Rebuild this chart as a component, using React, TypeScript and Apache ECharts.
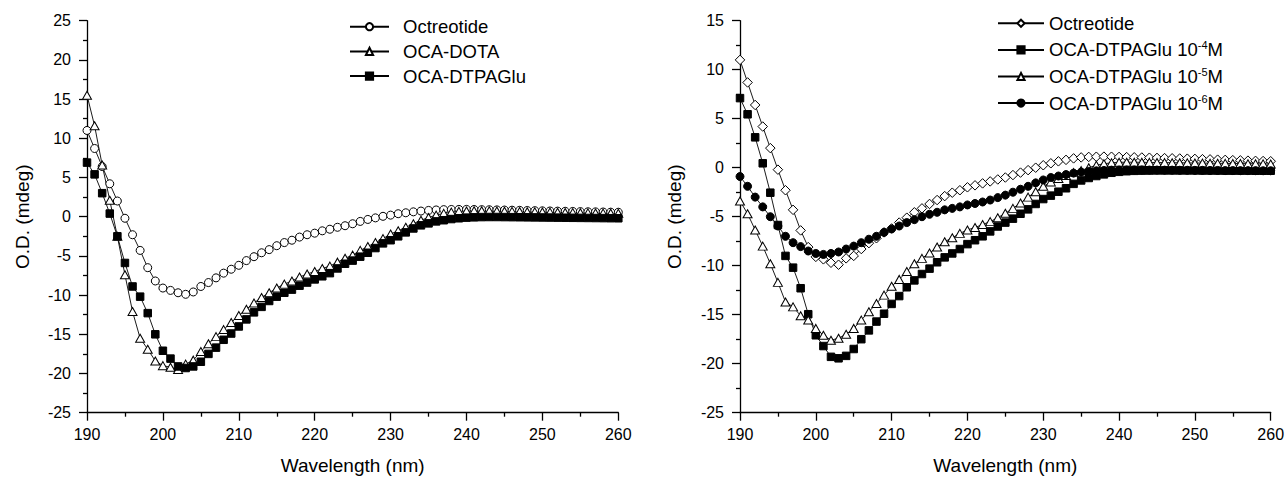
import React, { useEffect, useRef } from 'react';
import * as echarts from 'echarts';

const FONT = "'Liberation Sans', Arial, Helvetica, sans-serif";

// Wavelength (nm)
const wavelengths = [
  190, 191, 192, 193, 194, 195, 196, 197, 198, 199,
  200, 201, 202, 203, 204, 205, 206, 207, 208, 209,
  210, 211, 212, 213, 214, 215, 216, 217, 218, 219,
  220, 221, 222, 223, 224, 225, 226, 227, 228, 229,
  230, 231, 232, 233, 234, 235, 236, 237, 238, 239,
  240, 241, 242, 243, 244, 245, 246, 247, 248, 249,
  250, 251, 252, 253, 254, 255, 256, 257, 258, 259,
  260,
];

// Left panel
const leftOctreotide = [
  11.0, 8.7, 6.4, 4.2, 2.0, -0.2, -2.3, -4.3, -6.5, -8.2,
  -9.1, -9.4, -9.7, -9.9, -9.6, -8.9, -8.4, -7.8, -7.2, -6.7,
  -6.2, -5.6, -5.1, -4.6, -4.2, -3.7, -3.3, -3.0, -2.6, -2.3,
  -2.1, -1.8, -1.6, -1.35, -1.15, -0.9, -0.6, -0.35, -0.15, 0.05,
  0.2, 0.38, 0.5, 0.62, 0.72, 0.8, 0.86, 0.9, 0.92, 0.93,
  0.93, 0.92, 0.9, 0.89, 0.87, 0.85, 0.83, 0.81, 0.79, 0.77,
  0.75, 0.73, 0.71, 0.69, 0.67, 0.65, 0.63, 0.62, 0.6, 0.58,
  0.57,
];
const leftOcaDota = [
  15.5, 11.6, 6.6, 2.1, -2.5, -7.4, -12.1, -15.5, -16.9, -18.4,
  -19.0, -19.2, -19.5, -18.8, -18.3, -17.2, -16.2, -15.3, -14.4, -13.5,
  -12.6, -11.8, -11.0, -10.3, -9.7, -9.1, -8.6, -8.2, -7.7, -7.3,
  -7.0, -6.6, -6.3, -5.8, -5.3, -4.9, -4.3, -3.8, -3.3, -2.8,
  -2.2, -1.8, -1.35, -0.9, -0.45, -0.1, 0.2, 0.42, 0.58, 0.68,
  0.73, 0.75, 0.75, 0.74, 0.72, 0.7, 0.68, 0.66, 0.64, 0.62,
  0.6, 0.58, 0.56, 0.54, 0.52, 0.5, 0.49, 0.47, 0.46, 0.45,
  0.44,
];
const leftOcaDtpaGlu = [
  6.9, 5.4, 3.0, 0.4, -2.5, -5.9, -8.9, -10.2, -12.3, -15.0,
  -17.1, -18.1, -19.1, -19.3, -19.1, -18.5, -17.5, -16.7, -15.7, -14.9,
  -14.0, -13.1, -12.2, -11.5, -10.75, -10.2, -9.7, -9.3, -8.8, -8.4,
  -8.0, -7.6, -7.2, -6.6, -6.0, -5.6, -5.1, -4.6, -4.0, -3.4,
  -3.0, -2.5, -2.0, -1.5, -1.1, -0.85, -0.6, -0.45, -0.3, -0.2,
  -0.12, -0.08, -0.05, -0.04, -0.04, -0.05, -0.06, -0.07, -0.08, -0.09,
  -0.1, -0.11, -0.12, -0.13, -0.14, -0.15, -0.16, -0.17, -0.18, -0.19,
  -0.2,
];

// Right panel
const rightOctreotide = [
  11.0, 8.7, 6.4, 4.2, 2.0, -0.2, -2.3, -4.3, -6.4, -8.1,
  -9.1, -9.35, -9.7, -9.9, -9.25, -9.0, -8.3, -7.7, -7.2, -6.6,
  -6.2, -5.6, -5.1, -4.55, -4.15, -3.7, -3.3, -2.9, -2.55, -2.3,
  -2.0, -1.8, -1.6, -1.4, -1.2, -1.0, -0.75, -0.5, -0.25, 0.0,
  0.25, 0.45, 0.65, 0.8, 0.95, 1.05, 1.1, 1.12, 1.13, 1.12,
  1.1, 1.08, 1.06, 1.04, 1.02, 1.0, 0.98, 0.96, 0.94, 0.92,
  0.9, 0.87, 0.85, 0.82, 0.8, 0.77, 0.75, 0.72, 0.7, 0.68,
  0.66,
];
const rightDtpa4 = [
  7.1, 5.45, 3.1, 0.45, -2.55, -5.85, -9.0, -10.2, -12.3, -14.95,
  -17.1, -18.2, -19.3, -19.45, -19.2, -18.5, -17.5, -16.6, -15.7, -14.9,
  -13.9, -13.1, -12.2, -11.5, -10.85, -10.3, -9.65, -9.15, -8.75, -8.3,
  -7.8, -7.4, -7.0, -6.5, -6.0, -5.6, -5.2, -4.7, -4.25, -3.7,
  -3.2, -2.85, -2.45, -2.1, -1.65, -1.3, -1.05, -0.85, -0.68, -0.52,
  -0.42, -0.36, -0.32, -0.3, -0.29, -0.28, -0.28, -0.28, -0.28, -0.28,
  -0.28, -0.29, -0.29, -0.29, -0.3, -0.3, -0.3, -0.3, -0.31, -0.31,
  -0.31,
];
const rightDtpa5 = [
  -3.4, -4.7, -6.35, -8.0, -9.8, -11.7, -13.7, -14.2, -15.1, -15.55,
  -16.4, -17.1, -17.6, -17.4, -17.0, -16.4, -15.55, -14.7, -13.85, -13.0,
  -12.1, -11.4, -10.6, -9.8, -9.25, -8.7, -8.1, -7.55, -7.15, -6.7,
  -6.35, -6.1, -5.8, -5.5, -5.1, -4.65, -4.15, -3.6, -3.0, -2.45,
  -1.9, -1.45, -1.1, -0.8, -0.5, -0.3, 0.0, 0.25, 0.4, 0.5,
  0.55, 0.56, 0.56, 0.55, 0.54, 0.53, 0.52, 0.51, 0.5, 0.49,
  0.48, 0.47, 0.46, 0.45, 0.44, 0.43, 0.42, 0.41, 0.4, 0.39,
  0.38,
];
const rightDtpa6 = [
  -0.9, -1.9, -3.0, -4.0, -5.0, -5.95, -7.0, -7.65, -8.05, -8.5,
  -8.75, -8.85, -8.75, -8.6, -8.3, -8.0, -7.65, -7.3, -7.0, -6.6,
  -6.25, -5.95, -5.6, -5.3, -5.0, -4.75, -4.55, -4.3, -4.15, -4.0,
  -3.8, -3.65, -3.5, -3.3, -3.05, -2.8, -2.5, -2.2, -1.9, -1.55,
  -1.25, -1.0, -0.85, -0.7, -0.55, -0.45, -0.38, -0.32, -0.28, -0.25,
  -0.24, -0.23, -0.23, -0.23, -0.24, -0.24, -0.25, -0.25, -0.26, -0.26,
  -0.27, -0.27, -0.28, -0.28, -0.29, -0.29, -0.3, -0.3, -0.3, -0.31,
  -0.31,
];

const leftNames = ['Octreotide', 'OCA-DOTA', 'OCA-DTPAGlu'];
const rightNames = ['Octreotide', 'OCA-DTPAGlu 10^-4M', 'OCA-DTPAGlu 10^-5M', 'OCA-DTPAGlu 10^-6M'];
const xTicks = { min: 190, max: 260, step: 10 };
const leftYTicks = { min: -25, max: 25, step: 5 };
const rightYTicks = { min: -25, max: 15, step: 5 };

function series(name: string, vals: number[], symbol: string, size: any, filled: boolean) {
  return {
    type: 'line',
    name,
    data: wavelengths.map((w, i) => [w, vals[i]]),
    symbol,
    symbolSize: size,
    showAllSymbol: true,
    silent: true,
    lineStyle: { color: '#000', width: 0.9 },
    itemStyle: { color: filled ? '#000' : '#fff', borderColor: '#000', borderWidth: 1 },
    emphasis: { disabled: true },
  };
}

function axes(y: { min: number; max: number; step: number }, yNameGap: number) {
  const axisLine = { show: true, onZero: false, lineStyle: { color: '#000', width: 1.3 } };
  const axisTick = { show: true, inside: false, length: 8, lineStyle: { color: '#000', width: 1.3 } };
  const minorTick = { show: true, splitNumber: 2, length: 4, lineStyle: { color: '#000', width: 1.3 } };
  return {
    xAxis: {
      type: 'value',
      min: xTicks.min,
      max: xTicks.max,
      interval: xTicks.step,
      name: 'Wavelength (nm)',
      nameLocation: 'middle',
      nameGap: 43,
      nameMoveOverlap: false,
      nameTextStyle: { fontSize: 19, color: '#000', fontFamily: FONT },
      axisLine,
      axisTick,
      minorTick,
      axisLabel: { fontSize: 16, color: '#000', fontFamily: FONT, margin: 14 },
      splitLine: { show: false },
      minorSplitLine: { show: false },
    },
    yAxis: {
      type: 'value',
      min: y.min,
      max: y.max,
      interval: y.step,
      name: 'O.D. (mdeg)',
      nameLocation: 'middle',
      nameGap: yNameGap,
      nameMoveOverlap: false,
      nameTextStyle: { fontSize: 19, color: '#000', fontFamily: FONT },
      axisLine,
      axisTick,
      minorTick,
      axisLabel: { fontSize: 16, color: '#000', fontFamily: FONT, margin: 16 },
      splitLine: { show: false },
      minorSplitLine: { show: false },
    },
  };
}

function leftOption() {
  return {
    animation: false,
    backgroundColor: '#fff',
    grid: { left: 87, top: 20.7, width: 531.3, height: 392, outerBoundsMode: 'none', containLabel: false },
    ...axes(leftYTicks, 55),
    legend: {
      data: leftNames,
      orient: 'vertical',
      left: 349,
      top: 16.7,
      itemWidth: 39,
      itemHeight: 9,
      itemGap: 4.7,
      padding: 0,
      selectedMode: false,
      textStyle: { fontSize: 18.5, color: '#000', fontFamily: FONT, lineHeight: 20, padding: [0, 0, 0, 9] },
    },
    series: [
      series(leftNames[0], leftOctreotide, 'circle', 8, false),
      series(leftNames[1], leftOcaDota, 'triangle', [9, 8], false),
      series(leftNames[2], leftOcaDtpaGlu, 'rect', 7.5, true),
    ],
  };
}

function rightOption() {
  return {
    animation: false,
    backgroundColor: '#fff',
    grid: { left: 98, top: 20.7, width: 530.7, height: 392, outerBoundsMode: 'none', containLabel: false },
    ...axes(rightYTicks, 56),
    legend: {
      data: rightNames,
      orient: 'vertical',
      left: 355,
      top: 13.3,
      itemWidth: 46,
      itemHeight: 9,
      itemGap: 6.6,
      padding: 0,
      selectedMode: false,
      formatter: (name: string) => {
        const m = name.match(/^(.*)\^(-\d)(.*)$/);
        if (!m) return `{n|${name}}`;
        return `{n|${m[1]}}{s|${m[2]}}{n|${m[3]}}`;
      },
      textStyle: {
        fontSize: 18.5,
        color: '#000',
        fontFamily: FONT,
        lineHeight: 20,
        rich: {
          n: { fontSize: 18.5, color: '#000', fontFamily: FONT, lineHeight: 20, verticalAlign: 'middle' },
          s: { fontSize: 11, color: '#000', fontFamily: FONT, lineHeight: 12, verticalAlign: 'top' },
        },
      },
    },
    series: [
      series(rightNames[0], rightOctreotide, 'diamond', 9.5, false),
      series(rightNames[1], rightDtpa4, 'rect', 7.5, true),
      series(rightNames[2], rightDtpa5, 'triangle', [9, 8], false),
      series(rightNames[3], rightDtpa6, 'circle', 8, true),
    ],
  };
}

export default function App() {
  const leftRef = useRef<HTMLDivElement>(null);
  const rightRef = useRef<HTMLDivElement>(null);
  useEffect(() => {
    const l = echarts.init(leftRef.current as HTMLDivElement, null, { renderer: 'svg' });
    const r = echarts.init(rightRef.current as HTMLDivElement, null, { renderer: 'svg' });
    l.setOption(leftOption() as any);
    r.setOption(rightOption() as any);
    return () => {
      l.dispose();
      r.dispose();
    };
  }, []);
  return (
    <div style={{ position: 'absolute', left: 0, top: 0, width: 1285, height: 477, background: '#fff' }}>
      <div ref={leftRef} style={{ position: 'absolute', left: 0, top: 0, width: 642, height: 477 }} />
      <div ref={rightRef} style={{ position: 'absolute', left: 642, top: 0, width: 643, height: 477 }} />
    </div>
  );
}
